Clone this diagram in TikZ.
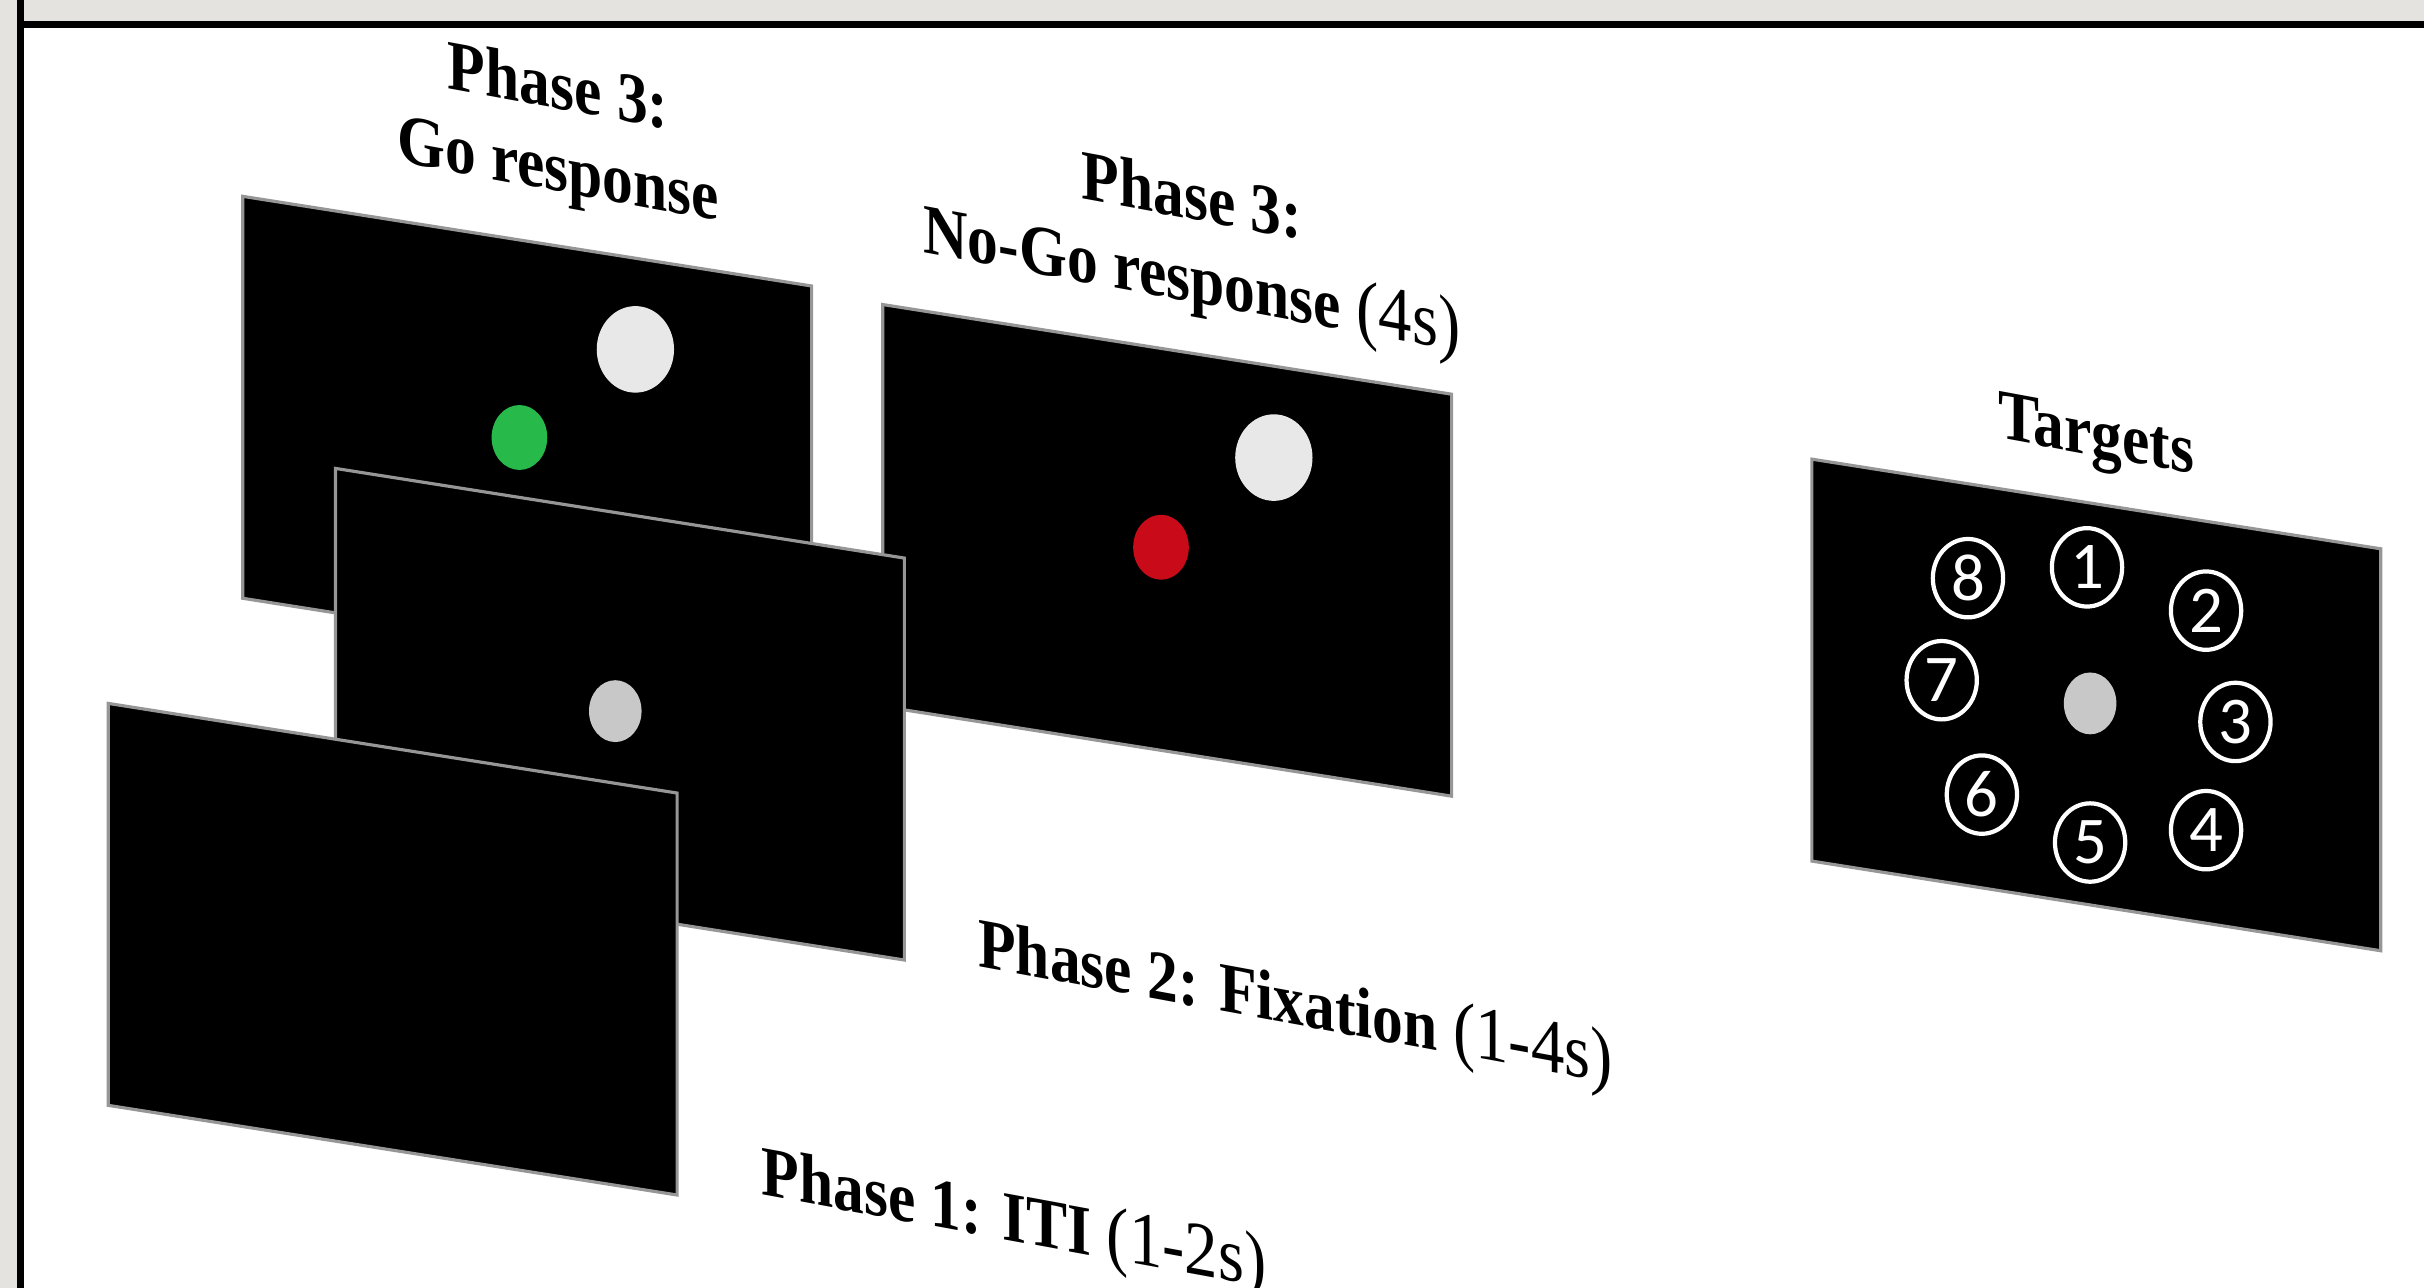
\documentclass[tikz,border=0pt]{standalone}
\usepackage{fontspec}
\setmainfont{Liberation Serif}
\newfontfamily\digitfont{Carlito}
\usetikzlibrary{shapes.geometric}
\definecolor{framegray}{RGB}{228,227,223}
\definecolor{edgegray}{RGB}{150,150,150}
\definecolor{dotwhite}{RGB}{232,232,232}
\definecolor{dotgray}{RGB}{200,200,200}
\definecolor{gogreen}{RGB}{40,185,75}
\definecolor{stopred}{RGB}{200,10,25}
\tikzset{
  screen/.style={fill=black, draw=edgegray, line width=0.9pt, line join=miter},
  phaselabel/.style={font=\fontsize{17.5}{20.5}\selectfont\bfseries, text=black,
    inner sep=0pt, align=center, yscale=1.15, yslant=-0.16},
  target/.style={ellipse, draw=white, line width=1.2pt, minimum width=20pt,
    minimum height=22.3pt, inner sep=0pt, text=white,
    font=\digitfont\fontsize{19}{19}\selectfont},
}
% a screen seen at an angle: top-left corner given, 368 wide, 260 high
\newcommand{\screenat}[2]{%
  \path[screen] (#1,#2) -- ++(368,58) -- ++(0,260) -- ++(-368,-58) -- cycle;}
\newcommand{\dur}[1]{{\mdseries\fontsize{19}{20.5}\selectfont #1}}
\begin{document}
\begin{tikzpicture}[x=0.15459mm, y=-0.15459mm]
\useasboundingbox (0,0) rectangle (1568,833);
% page frame
\fill[framegray] (0,0) rectangle (1568,13.6);
\fill[framegray] (0,0) rectangle (11,833);
\fill[black] (11,13.6) rectangle (1568,18.3);
\fill[black] (11,0) rectangle (15.5,833);

% Phase 3: Go response
\screenat{157}{127}
\fill[dotwhite] (411,226) ellipse [x radius=25, y radius=28];
\fill[gogreen] (336,283) ellipse [x radius=18, y radius=21];

% Phase 3: No-Go response
\screenat{571}{197}
\fill[dotwhite] (824,296) ellipse [x radius=25, y radius=28];
\fill[stopred] (751,354) ellipse [x radius=18, y radius=21];

% Phase 2: fixation
\screenat{217}{303}
\fill[dotgray] (398,460) ellipse [x radius=17, y radius=20];

% Phase 1: inter-trial interval
\screenat{70}{455}

% Target layout
\screenat{1172}{297}
\fill[dotgray] (1352,455) ellipse [x radius=17, y radius=20];
\node[target] (t1) at (1350,367) {1};
\node[target] (t2) at (1427,395) {2};
\node[target] (t3) at (1446,467) {3};
\node[target] (t4) at (1427,537) {4};
\node[target] (t5) at (1352,545) {5};
\node[target] (t6) at (1282,514) {6};
\node[target] (t7) at (1256,440) {7};
\node[target] (t8) at (1273,374) {8};

% labels
\node[phaselabel] (go) at (361,86) {Phase 3:\\Go response};
\node[phaselabel] (nogo) at (771,158) {Phase 3:\\No-Go response \dur{(4s)}};
\node[phaselabel] (fix) at (838,651) {Phase 2: Fixation \dur{(1-4s)}};
\node[phaselabel] (iti) at (656,791) {Phase 1: ITI \dur{(1-2s)}};
\node[phaselabel] (tg) at (1356,285) {Targets};
\end{tikzpicture}
\end{document}
